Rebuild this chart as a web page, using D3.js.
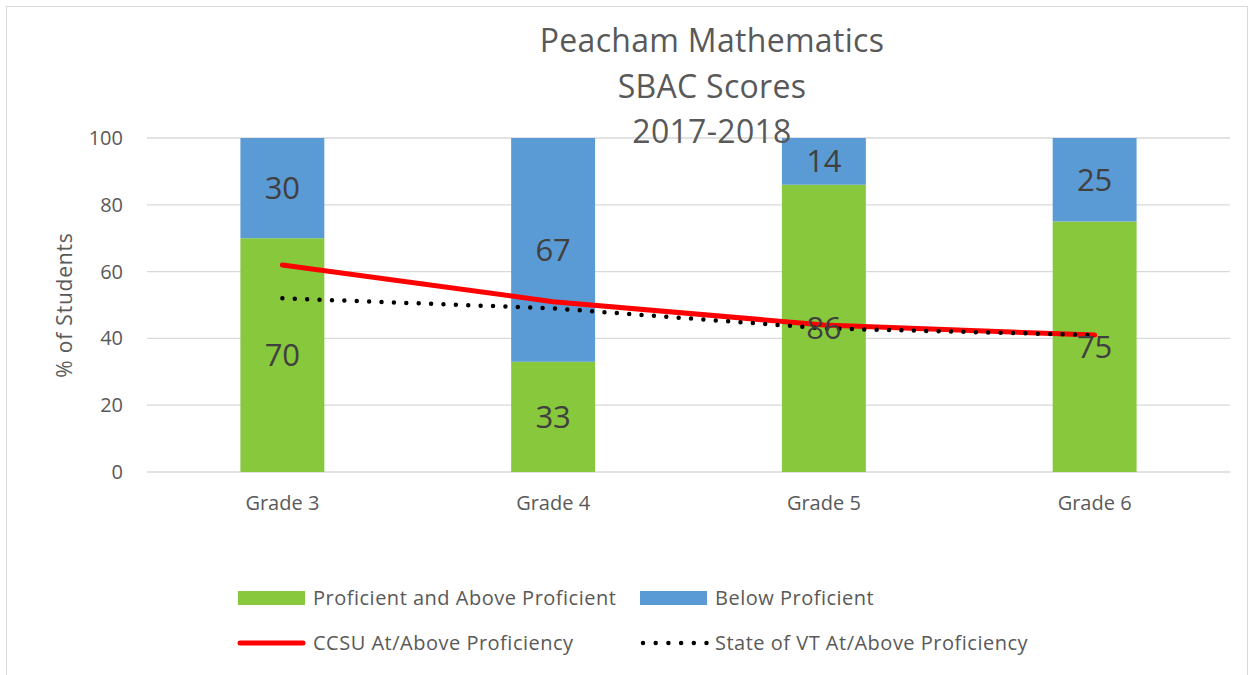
<!DOCTYPE html>
<html>
<head>
<meta charset="utf-8">
<script src="https://cdn.jsdelivr.net/npm/d3@7"></script>
<style>
  body { margin: 0; background: #fff; }
  text { font-family: "Open Sans", sans-serif; }
</style>
</head>
<body>
<div id="chart"></div>
<script>
var grades = ["Grade 3", "Grade 4", "Grade 5", "Grade 6"];
var proficient = [70, 33, 86, 75];
var below = [30, 67, 14, 25];
var ccsu = [62, 51, 44, 41];
var stateVT = [52, 49, 43, 41];
var yTicks = [0, 20, 40, 60, 80, 100];
var titleLines = ["Peacham Mathematics", "SBAC Scores", "2017-2018"];

var W = 1254, H = 675;
var margin = {top: 138, right: 24, bottom: 203, left: 147};
var width = W - margin.left - margin.right;
var height = H - margin.top - margin.bottom;

var svg = d3.select("#chart").append("svg")
    .attr("width", W)
    .attr("height", H);

// outer chart border
svg.append("rect")
    .attr("x", 6.5).attr("y", 6.5)
    .attr("width", W - 13).attr("height", H)
    .attr("fill", "#fff")
    .attr("stroke", "#d9d9d9");

var g = svg.append("g")
    .attr("transform", "translate(" + margin.left + "," + margin.top + ")");

var x = d3.scaleBand().domain(grades).range([0, width]).paddingInner(0.69).paddingOuter(0.345);
var y = d3.scaleLinear().domain([0, 100]).range([height, 0]);

// gridlines
g.selectAll(".grid").data(yTicks).enter().append("line")
    .attr("x1", 0).attr("x2", width)
    .attr("y1", function(d) { return y(d); })
    .attr("y2", function(d) { return y(d); })
    .attr("stroke", "#d9d9d9")
    .attr("stroke-width", 1.3);

// y tick labels
g.selectAll(".ytick").data(yTicks).enter().append("text")
    .attr("x", -24)
    .attr("y", function(d) { return y(d); })
    .attr("dy", "0.35em")
    .attr("text-anchor", "end")
    .attr("fill", "#595959")
    .style("font-size", "20px")
    .text(function(d) { return d; });

// x labels
g.selectAll(".xtick").data(grades).enter().append("text")
    .attr("x", function(d) { return x(d) + x.bandwidth() / 2; })
    .attr("y", height + 31)
    .attr("dy", "0.35em")
    .attr("text-anchor", "middle")
    .attr("fill", "#595959")
    .style("font-size", "20px")
    .text(function(d) { return d; });

var stack = grades.map(function(gr, i) {
    return {grade: gr, p: proficient[i], b: below[i]};
});

// proficient bars
g.selectAll(".bar-p").data(stack).enter().append("rect")
    .attr("x", function(d) { return x(d.grade); })
    .attr("width", x.bandwidth())
    .attr("y", function(d) { return y(d.p); })
    .attr("height", function(d) { return y(0) - y(d.p); })
    .attr("fill", "#88c83c");

// below bars
g.selectAll(".bar-b").data(stack).enter().append("rect")
    .attr("x", function(d) { return x(d.grade); })
    .attr("width", x.bandwidth())
    .attr("y", function(d) { return y(d.p + d.b); })
    .attr("height", function(d) { return y(d.p) - y(d.p + d.b); })
    .attr("fill", "#5b9bd5");

// lines
var line = d3.line()
    .x(function(d, i) { return x(grades[i]) + x.bandwidth() / 2; })
    .y(function(d) { return y(d); });

g.append("path")
    .attr("d", line(ccsu))
    .attr("fill", "none")
    .attr("stroke", "#ff0000")
    .attr("stroke-width", 5)
    .attr("stroke-linecap", "round")
    .attr("stroke-linejoin", "round");

g.append("path")
    .attr("d", line(stateVT))
    .attr("fill", "none")
    .attr("stroke", "#000")
    .attr("stroke-width", 4.5)
    .attr("stroke-linecap", "round")
    .attr("stroke-dasharray", "0,12.4");

// data labels
g.selectAll(".lab-p").data(stack).enter().append("text")
    .attr("x", function(d) { return x(d.grade) + x.bandwidth() / 2; })
    .attr("y", function(d) { return y(d.p / 2); })
    .attr("dy", "0.35em")
    .attr("text-anchor", "middle")
    .attr("fill", "#404040")
    .style("font-size", "31px")
    .text(function(d) { return d.p; });

g.selectAll(".lab-b").data(stack).enter().append("text")
    .attr("x", function(d) { return x(d.grade) + x.bandwidth() / 2; })
    .attr("y", function(d) { return y(d.p + d.b / 2); })
    .attr("dy", "0.35em")
    .attr("text-anchor", "middle")
    .attr("fill", "#404040")
    .style("font-size", "31px")
    .text(function(d) { return d.b; });

// title
svg.selectAll(".title").data(titleLines).enter().append("text")
    .attr("x", 712)
    .attr("y", function(d, i) { return 52 + i * 45.5; })
    .attr("text-anchor", "middle")
    .attr("fill", "#595959")
    .style("font-size", "32px")
    .style("letter-spacing", "0.3px")
    .text(function(d) { return d; });

// y axis title
svg.append("text")
    .attr("transform", "translate(65," + (margin.top + height / 2) + ") rotate(-90)")
    .attr("dy", "0.35em")
    .attr("text-anchor", "middle")
    .attr("fill", "#595959")
    .style("font-size", "21px")
    .style("letter-spacing", "0.8px")
    .text("%  of Students");

// legend
var legend = [
    {label: "Proficient and Above Proficient", type: "rect", color: "#88c83c", x: 238, y: 598},
    {label: "Below Proficient", type: "rect", color: "#5b9bd5", x: 640, y: 598},
    {label: "CCSU At/Above Proficiency", type: "line", color: "#ff0000", x: 238, y: 643},
    {label: "State of VT At/Above Proficiency", type: "dot", color: "#000", x: 640, y: 643}
];

var lg = svg.selectAll(".legend").data(legend).enter().append("g")
    .attr("transform", function(d) { return "translate(" + d.x + "," + d.y + ")"; });

lg.filter(function(d) { return d.type === "rect"; }).append("rect")
    .attr("x", 0).attr("y", -7)
    .attr("width", 67).attr("height", 14)
    .attr("fill", function(d) { return d.color; });

lg.filter(function(d) { return d.type === "line"; }).append("line")
    .attr("x1", 2).attr("x2", 65)
    .attr("stroke", "#ff0000")
    .attr("stroke-width", 5)
    .attr("stroke-linecap", "round");

lg.filter(function(d) { return d.type === "dot"; }).append("line")
    .attr("x1", 3).attr("x2", 67)
    .attr("stroke", "#000")
    .attr("stroke-width", 4.5)
    .attr("stroke-linecap", "round")
    .attr("stroke-dasharray", "0,12.7");

lg.append("text")
    .attr("x", 75)
    .attr("dy", "0.35em")
    .attr("fill", "#595959")
    .style("font-size", "20px")
    .style("letter-spacing", "0.5px")
    .text(function(d) { return d.label; });
</script>
</body>
</html>
